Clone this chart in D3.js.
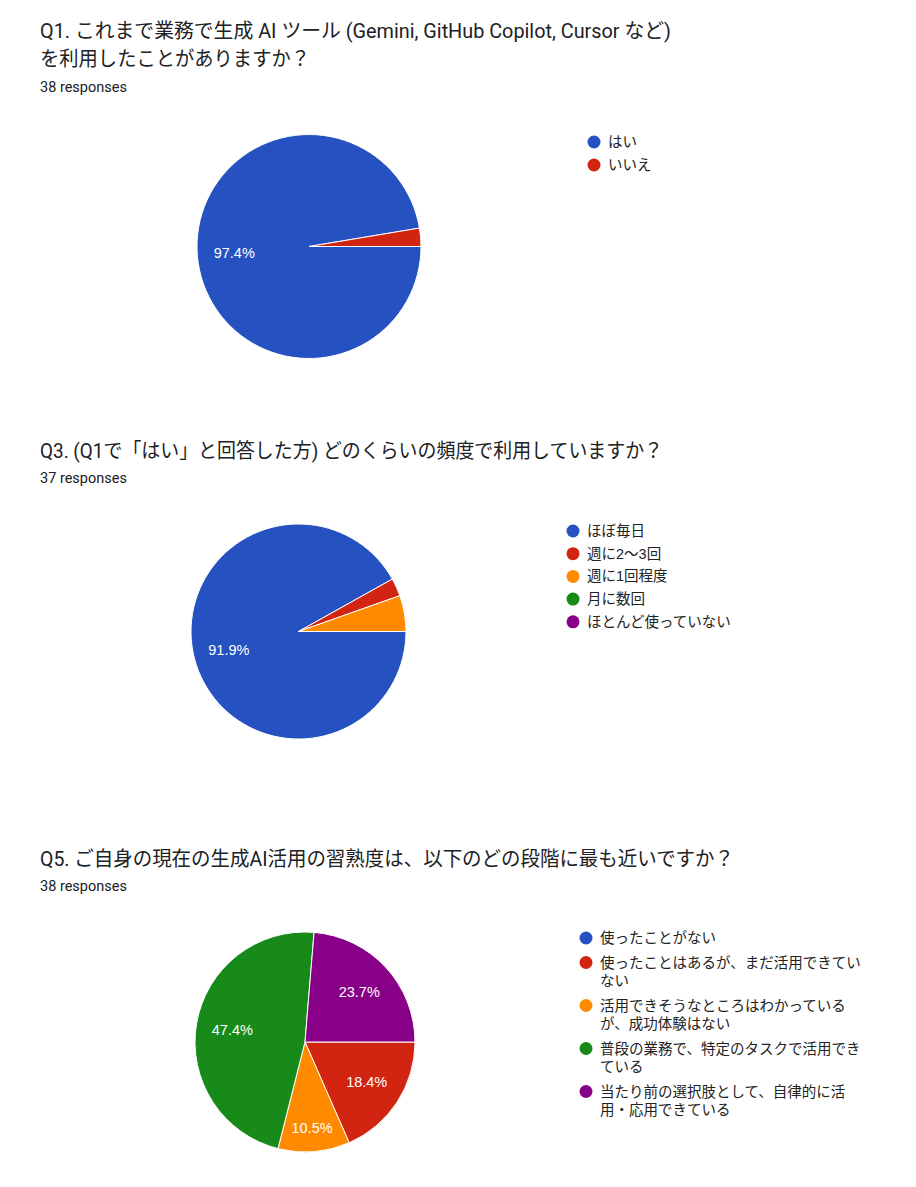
<!DOCTYPE html>
<html><head><meta charset="utf-8">
<script src="https://cdn.jsdelivr.net/npm/d3@7"></script>
<style>
html,body{margin:0;padding:0;background:#fff;}
svg{display:block;}
</style></head>
<body>
<script>
// ---- data ----
const q1Title = ["Q1. これまで業務で生成 AI ツール (Gemini, GitHub Copilot, Cursor など)", "を利用したことがありますか？"];
const q1Responses = "38 responses";
const q1Labels = ["はい", "いいえ"];
const q1Values = [37, 1];

const q3Title = ["Q3. (Q1で「はい」と回答した方) どのくらいの頻度で利用していますか？"];
const q3Responses = "37 responses";
const q3Labels = ["ほぼ毎日", "週に2〜3回", "週に1回程度", "月に数回", "ほとんど使っていない"];
const q3Values = [34, 1, 2, 0, 0];

const q5Title = ["Q5. ご自身の現在の生成AI活用の習熟度は、以下のどの段階に最も近いですか？"];
const q5Responses = "38 responses";
const q5Labels = ["使ったことがない", "使ったことはあるが、まだ活用できていない", "活用できそうなところはわかっているが、成功体験はない", "普段の業務で、特定のタスクで活用できている", "当たり前の選択肢として、自律的に活用・応用できている"];
const q5Values = [0, 7, 4, 18, 9];

const colors = ["#2651C1", "#D12411", "#FF8A00", "#178A1A", "#880088"];

// ---- layout ----
const W = 916, H = 1187;
const svg = d3.select("body").append("svg").attr("width", W).attr("height", H);
svg.append("rect").attr("width", W).attr("height", H).attr("fill", "#fff");

const titleFont = "Roboto, 'Noto Sans CJK JP', sans-serif";
const legendFont = "'Liberation Sans', 'Noto Sans CJK JP', sans-serif";
const kinsoku = "、。・，．）」";

const measurer = svg.append("text").attr("font-family", legendFont).attr("font-size", 14.5).attr("visibility", "hidden");
function textWidth(s) { measurer.text(s); return measurer.node().getComputedTextLength(); }
function wrap(s, maxW) {
  const chars = Array.from(s);
  const lines = []; let cur = "";
  for (let i = 0; i < chars.length; i++) {
    const c = chars[i];
    if (cur && textWidth(cur + c) > maxW) {
      if (kinsoku.includes(c) && cur.length > 1) {
        const last = cur.slice(-1); cur = cur.slice(0, -1);
        lines.push(cur); cur = last + c;
      } else { lines.push(cur); cur = c; }
    } else cur += c;
  }
  if (cur) lines.push(cur);
  return lines;
}

function drawChart(cfg) {
  const g = svg.append("g");
  cfg.title.forEach((t, i) => {
    g.append("text").attr("x", 40).attr("y", cfg.titleY + i * 28)
      .attr("font-family", titleFont).attr("font-size", 20).attr("fill", "#202124")
      .attr("textLength", cfg.titleW[i]).attr("lengthAdjust", "spacingAndGlyphs")
      .text(t);
  });
  g.append("text").attr("x", 40).attr("y", cfg.respY)
    .attr("font-family", titleFont).attr("font-size", 14.5).attr("fill", "#202124")
    .text(cfg.responses);

  const total = d3.sum(cfg.values);
  const data = cfg.labels.map((l, i) => ({ label: l, value: cfg.values[i], color: colors[i] }));
  const pie = d3.pie().value(d => d.value).sort(null)
    .startAngle(Math.PI / 2).endAngle(Math.PI / 2 + 2 * Math.PI);
  const arcs = pie(data);
  const r = cfg.r;
  const arc = d3.arc().innerRadius(0).outerRadius(r);
  const pg = g.append("g").attr("transform", `translate(${cfg.cx},${cfg.cy})`);
  pg.selectAll("path").data(arcs.filter(a => a.data.value > 0)).join("path")
    .attr("d", arc).attr("fill", d => d.data.color)
    .attr("stroke", "#fff").attr("stroke-width", 1).attr("stroke-linejoin", "round");

  arcs.filter(a => a.data.value / total >= 0.08).forEach(a => {
    const txt = (a.data.value / total * 100).toFixed(1) + "%";
    const t = pg.append("text").attr("font-family", "'Liberation Sans', Arial, sans-serif")
      .attr("font-size", 14.5).attr("fill", "#fff").attr("text-anchor", "middle")
      .attr("dominant-baseline", "central").text(txt);
    const tw = t.node().getComputedTextLength();
    const theta = a.endAngle - a.startAngle;
    const mid = (a.startAngle + a.endAngle) / 2;
    let rho = 0.67 * r;
    if (theta < Math.PI) rho = Math.min(0.78 * r, Math.max(rho, (tw / 2 + 8) / Math.sin(theta / 2)));
    t.attr("x", Math.sin(mid) * rho).attr("y", -Math.cos(mid) * rho);
  });

  const lg = g.append("g");
  let y = cfg.legY;
  data.forEach(d => {
    const lines = cfg.wrapW ? wrap(d.label, cfg.wrapW) : [d.label];
    lg.append("circle").attr("cx", cfg.legX).attr("cy", y).attr("r", 6.5).attr("fill", d.color);
    lines.forEach((ln, i) => {
      lg.append("text").attr("x", cfg.legX + 14).attr("y", y + i * cfg.lineH)
        .attr("dominant-baseline", "central")
        .attr("font-family", legendFont).attr("font-size", 14.5).attr("fill", "#222")
        .text(ln);
    });
    y += (lines.length - 1) * cfg.lineH + cfg.itemStep;
  });
}

drawChart({ title: q1Title, titleW: [631, 270], titleY: 38, responses: q1Responses, respY: 92,
  labels: q1Labels, values: q1Values, cx: 309, cy: 246.5, r: 112,
  legX: 594, legY: 142, itemStep: 23, lineH: 19 });
drawChart({ title: q3Title, titleW: [623], titleY: 458, responses: q3Responses, respY: 483,
  labels: q3Labels, values: q3Values, cx: 298.5, cy: 631.5, r: 107.5,
  legX: 573, legY: 531, itemStep: 22.7, lineH: 19 });
drawChart({ title: q5Title, titleW: [694], titleY: 866, responses: q5Responses, respY: 891,
  labels: q5Labels, values: q5Values, cx: 305, cy: 1042, r: 110,
  legX: 586, legY: 938, itemStep: 24.5, lineH: 18.5, wrapW: 268 });
measurer.remove();
</script>
</body></html>
